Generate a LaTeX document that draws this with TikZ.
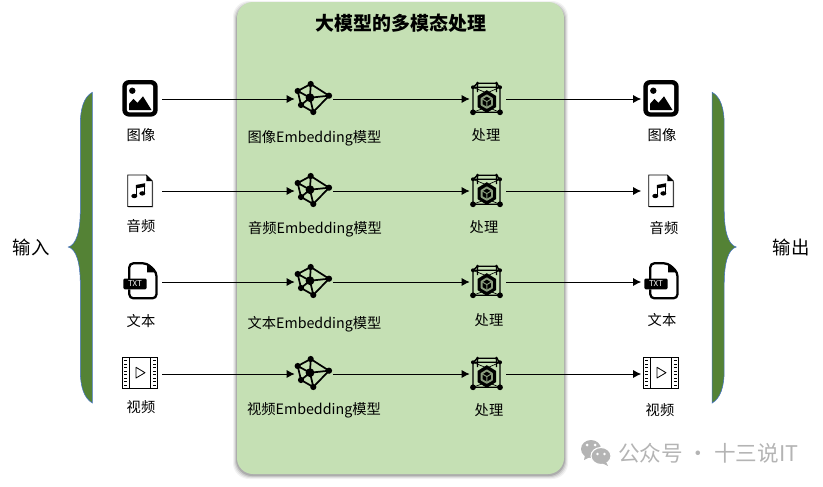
\documentclass[tikz,border=0pt]{standalone}
\usepackage{fontspec}
\setmainfont{Noto Sans CJK SC}
\usetikzlibrary{arrows.meta,shapes.geometric}
\definecolor{panelgreen}{HTML}{C5E0B4}
\definecolor{bracegreen}{HTML}{548235}
\definecolor{braceblue}{HTML}{4472C4}
\definecolor{markgray}{HTML}{B4B4B4}
\tikzset{
  x=0.75pt,y=-0.75pt,
  lab/.style={font=\fontsize{10.7pt}{12pt}\selectfont,text=black,inner sep=0pt},
  big/.style={font=\fontsize{13.8pt}{16pt}\selectfont,text=black,inner sep=0pt},
  slot/.style={inner sep=0pt,minimum height=20pt,minimum width=#1*0.75pt},
  flow/.style={draw=black,line width=0.75pt,-{Latex[length=6pt,width=6pt]}},
  brace/.style={fill=bracegreen,draw=braceblue,line width=0.4pt},
  pics/imgicon/.style={code={
    \fill[black,rounded corners=5pt] (-17.7,-18.3) rectangle (17.7,18.3);
    \fill[white,rounded corners=2pt] (-13.2,-14) rectangle (13.2,14);
    \fill[black] (-7.7,-7.6) circle (3.2);
    \fill[black] (-11,11.7) -- (-11,5.5) -- (-6.5,0.5) -- (-2.5,4.5) -- (3,-2) -- (11.5,11.7) -- cycle;
  }},
  pics/noteicon/.style={code={
    \fill[black!45] (-11.6,-14.6) -- (7,-14.6) -- (13,-8.6) -- (13,16.3) -- (-11.6,16.3) -- cycle;
    \filldraw[fill=white,draw=black,line width=0.6pt] (-12.3,-16) -- (6.3,-16) -- (12.3,-10) -- (12.3,15.5) -- (-12.3,15.5) -- cycle;
    \fill[black] (6.3,-16) -- (6.3,-10) -- (12.3,-10) -- cycle;
    \fill[black] (-5.7,5) ellipse (3 and 2.2);
    \fill[black] (2.3,2.4) ellipse (3 and 2.2);
    \fill[black] (-4.2,-6) -- (5.2,-7.8) -- (5.2,-4.2) -- (-4.2,-2.6) -- cycle;
    \draw[black,line width=1.1pt] (-3.6,5) -- (-3.6,-6) (4.6,2.4) -- (4.6,-7.5);
  }},
  pics/txticon/.style={code={
    \draw[black,line width=1.7pt,line join=round,rounded corners=3pt] (-10.7,-2) -- (-10.7,-18) -- (7,-18) -- (16.5,-9) -- (16.5,17) -- (-10.7,17) -- (-10.7,8);
    \fill[black] (7,-18) -- (7,-9) -- (16.5,-9) -- cycle;
    \fill[black,rounded corners=1pt] (-16.7,-2.8) rectangle (6.7,8);
    \node[inner sep=0pt,text=white,font=\fontsize{6pt}{7pt}\selectfont] at (-5,2.6) {TXT};
  }},
  pics/vidicon/.style={code={
    \filldraw[fill=white,draw=black,line width=0.6pt] (-17.7,-15.7) rectangle (17.7,15.3);
    \draw[black,line width=0.6pt] (-10.7,-15.7) -- (-10.7,15.3) (10.7,-15.7) -- (10.7,15.3);
    \foreach \py in {-13,-9.5,-6,-2.5,1,4.5,8,11.5} {
      \fill[black] (-15.6,\py) rectangle (-12.8,\py+1.3);
      \fill[black] (12.8,\py) rectangle (15.6,\py+1.3);
    }
    \draw[black,line width=0.6pt,line join=round] (-4,-5.7) -- (5,-0.3) -- (-4,5) -- cycle;
  }},
  pics/graphicon/.style={code={
    \coordinate (gt) at (0.7,-15);
    \coordinate (gl) at (-12.3,-8);
    \coordinate (gc) at (0,-1.3);
    \coordinate (gr) at (19,-3.3);
    \coordinate (gd) at (-9,6);
    \coordinate (gb) at (3.3,13);
    \draw[black,line width=1.3pt] (gt) -- (gl) -- (gd) -- (gb) -- (gr) -- (gt) -- (gc) -- (gl)
      (gc) -- (gr) (gc) -- (gd) (gc) -- (gb);
    \foreach \gp in {gt,gl,gr,gd,gb} \fill[black] (\gp) circle (3.1);
    \fill[black] (gc) circle (4.4);
  }},
  pics/cubeicon/.style={code={
    \draw[black,line width=1pt] (-13.5,-11.7) rectangle (13.5,13.3)
      (-13.5,-11.7) -- (-9,-15.7) -- (10,-15.7) -- (13.5,-11.7)
      (-9,-15.7) -- (-9,-7) (10,-15.7) -- (10,-7);
    \draw[black,line width=0.5pt] (-13.5,13.3) -- (0.3,8) -- (13.5,13.3)
      (-13.5,-11.7) -- (0.3,-6) -- (13.5,-11.7);
    \foreach \gx/\gy/\gs in {-13.5/-11.7/2,13.5/-11.7/2,-9/-15.7/1.7,10/-15.7/1.7,-13.5/13.3/2.9,13.5/13.3/2.9}
      \fill[black] (\gx,\gy) circle (\gs);
    \fill[black] (0.3,-8.8) -- (9.5,-3.1) -- (9.5,8.1) -- (0.3,13.8) -- (-8.9,8.1) -- (-8.9,-3.1) -- cycle;
    \draw[panelgreen!70!black,line width=1.4pt,line join=round] (0.3,-3.6) -- (5.5,-0.4) -- (5.5,5.8) -- (0.3,8.8) -- (-4.9,5.8) -- (-4.9,-0.4) -- cycle;
    \draw[panelgreen!70!black,line width=0.7pt] (0.3,2.6) -- (0.3,8.8) (0.3,2.6) -- (5.5,-0.4) (0.3,2.6) -- (-4.9,-0.4);
  }}
}
\begin{document}
\begin{tikzpicture}
\useasboundingbox (0,0) rectangle (823,486);
% panel and shadow
\foreach \sg/\so in {3/0.05,2/0.07,1/0.10,0/0.14}
  \fill[black,opacity=\so,rounded corners=12pt] (236-\sg,4-\sg) rectangle (565+\sg,476+\sg);
\fill[panelgreen,rounded corners=12pt] (237,2) rectangle (564,474);
\node[inner sep=0pt,text=black,font=\fontsize{14.2pt}{17pt}\selectfont\bfseries] (title) at (401,23) {大模型的多模态处理};
% braces
\filldraw[brace] (92.3,92.3) .. controls (84,97) and (80.3,108) .. (80.3,125) -- (80.3,210)
  .. controls (80.3,232) and (76,245) .. (68.3,247)
  .. controls (76,249) and (80.3,262) .. (80.3,284) -- (80.3,370)
  .. controls (80.3,387) and (84,398) .. (92.3,403) -- cycle;
\filldraw[brace] (712.2,92.3) .. controls (720.5,97) and (724.2,108) .. (724.2,125) -- (724.2,210)
  .. controls (724.2,232) and (728.5,245) .. (736.2,247)
  .. controls (728.5,249) and (724.2,262) .. (724.2,284) -- (724.2,370)
  .. controls (724.2,387) and (720.5,398) .. (712.2,403) -- cycle;
\node[big] (inlab) at (31,247) {输入};
\node[big] (outlab) at (791,247) {输出};
% slots used as connector ends
\foreach \rw/\ry in {1/99,2/191,3/282,4/374} {
  \node[slot=42] (in\rw) at (141,\ry) {};
  \node[slot=38] (em\rw) at (314,\ry) {};
  \node[slot=36] (pr\rw) at (488,\ry) {};
  \node[slot=38] (ou\rw) at (660.5,\ry) {};
  \draw[flow] (in\rw.east) -- (em\rw.west);
  \draw[flow] (em\rw.east) -- (pr\rw.west);
  \draw[flow] (pr\rw.east) -- (ou\rw.west);
  \pic at (310,\ry) {graphicon};
  \pic at (486.5,\ry) {cubeicon};
}
% icons
\pic at (140,98.3) {imgicon};
\pic at (140,191) {noteicon};
\pic at (140,281.3) {txticon};
\pic at (140,373) {vidicon};
\pic at (661,98.3) {imgicon};
\pic at (661,191) {noteicon};
\pic at (661,281.3) {txticon};
\pic at (661,373) {vidicon};
% labels
\node[lab] (l1) at (141,135.5) {图像};
\node[lab] (l2) at (141,226.5) {音频};
\node[lab] (l3) at (141,321.5) {文本};
\node[lab] (l4) at (141,407.5) {视频};
\node[lab] (e1) at (314.5,138) {图像Embedding模型};
\node[lab] (e2) at (315,229) {音频Embedding模型};
\node[lab] (e3) at (314.5,324) {文本Embedding模型};
\node[lab] (e4) at (314,410) {视频Embedding模型};
\node[lab] (p1) at (486,135.5) {处理};
\node[lab] (p2) at (484,227.5) {处理};
\node[lab] (p3) at (489,320.5) {处理};
\node[lab] (p4) at (489,410.5) {处理};
\node[lab] (r1) at (662,135.5) {图像};
\node[lab] (r2) at (664,228.5) {音频};
\node[lab] (r3) at (662,320.5) {文本};
\node[lab] (r4) at (660,410.5) {视频};
% watermark
\fill[markgray] (591,449) ellipse (10 and 9);
\fill[markgray] (585,455) -- (584,460) -- (590,457) -- cycle;
\filldraw[fill=markgray,draw=white,line width=0.8pt] (601,456) ellipse (10 and 8.5);
\fill[markgray] (606,462) -- (608,466) -- (602,463) -- cycle;
\fill[white] (587,445) circle (1.5) (595,445) circle (1.5) (597.5,454) circle (1.3) (604.5,454) circle (1.3);
\node[inner sep=0pt,text=markgray,font=\fontsize{16.2pt}{19pt}\selectfont,anchor=west] (wm) at (618,453) {公众号 · 十三说IT};
\end{tikzpicture}
\end{document}
